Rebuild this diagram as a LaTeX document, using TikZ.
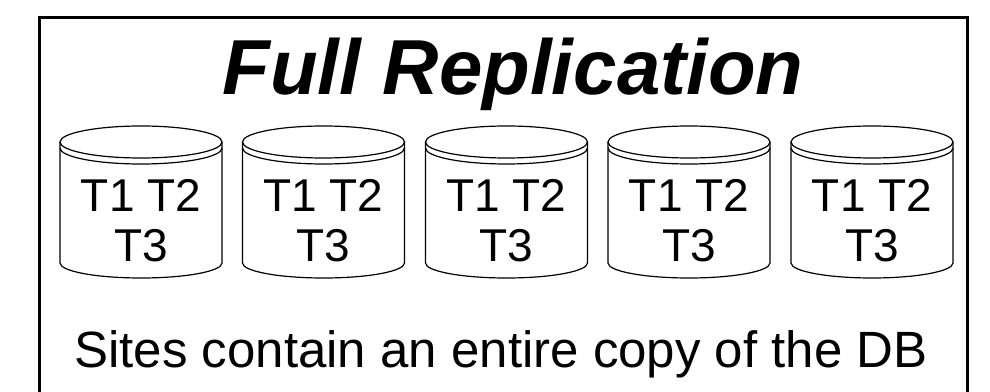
\documentclass[tikz,border=0pt]{standalone}
\usepackage{fontspec}
\setmainfont{Liberation Sans}
\begin{document}
\begin{tikzpicture}[x=1pt,y=1pt,
  framestyle/.style={line width=3pt,black},
  cylline/.style={line width=1.2pt,black},
  titletext/.style={font=\fontsize{78}{80}\selectfont\bfseries\itshape,inner sep=0pt,anchor=base},
  celltext/.style={font=\fontsize{46}{50}\selectfont,inner sep=0pt,anchor=base,align=center},
  captext/.style={font=\fontsize{51}{55}\selectfont,inner sep=0pt,anchor=base}]
\useasboundingbox (0,0) rectangle (990,391);
\fill[white] (0,0) rectangle (990,391);
\draw[framestyle] (39,-20) rectangle (967,373);
\node[titletext] (title) at (513,296) {Full Replication};
\foreach \i/\cx in {1/141,2/323.5,3/506.5,4/689,5/872} {
  \draw[cylline] (\cx,249) ellipse [x radius=81, y radius=16];
  \draw[cylline] (\cx-81,243) arc [start angle=180, end angle=360, x radius=81, y radius=16];
  \draw[cylline] (\cx-81,249) -- (\cx-81,128) arc [start angle=180, end angle=360, x radius=81, y radius=15] -- (\cx+81,249);
  \node[celltext] (t\i a) at (\cx,179) {T1 T2};
  \node[celltext] (t\i b) at (\cx,129) {T3};
}
\node[captext] (caption) at (501,24) {Sites contain an entire copy of the DB};
\end{tikzpicture}
\end{document}
